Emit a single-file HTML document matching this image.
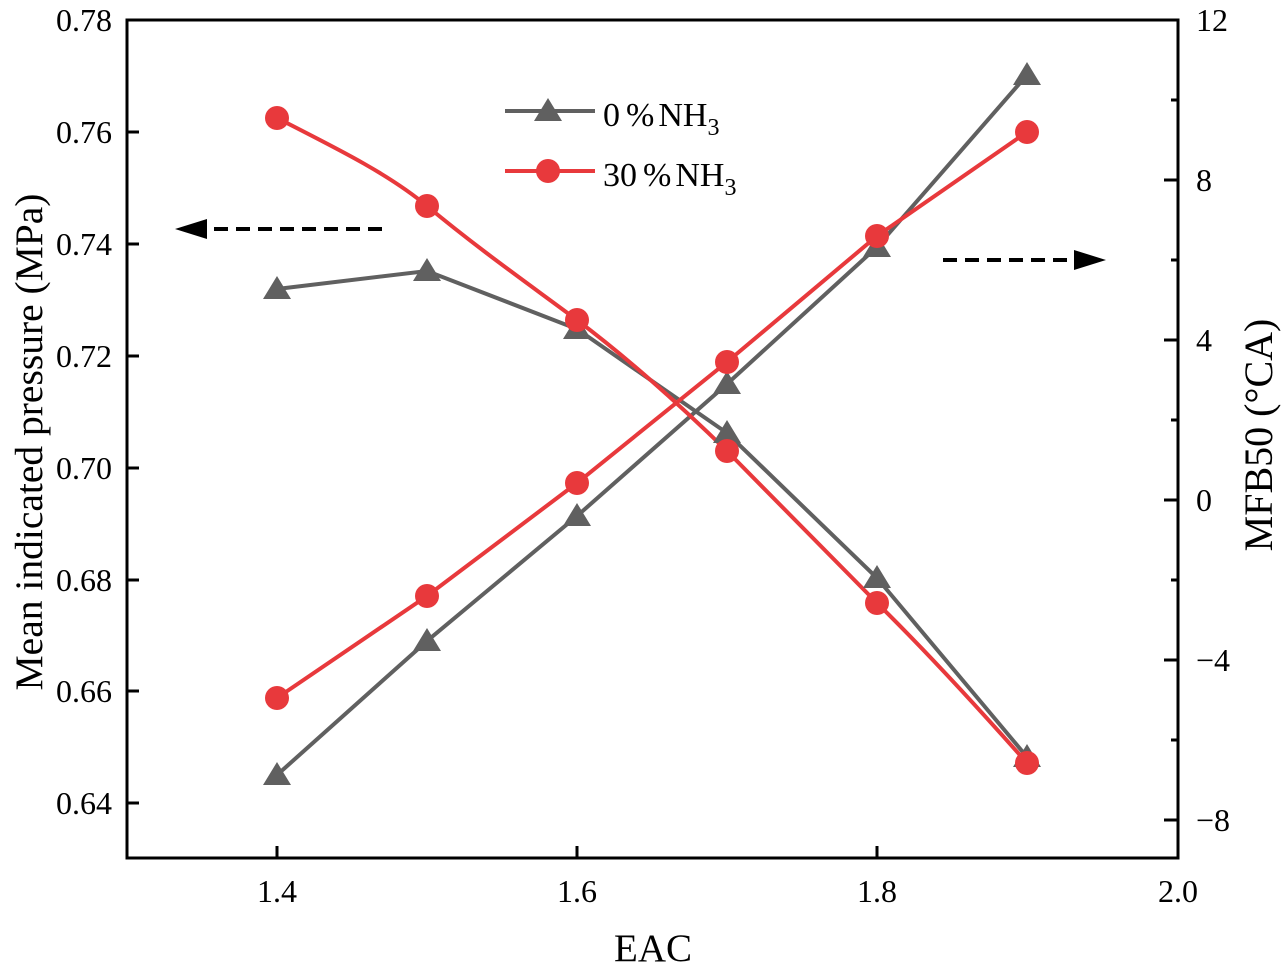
<!DOCTYPE html>
<html><head><meta charset="utf-8"><style>
body{margin:0;background:#fff}
svg text{font-family:"Liberation Serif",serif;fill:#000}
</style></head><body>
<svg width="1283" height="975" viewBox="0 0 1283 975" xmlns="http://www.w3.org/2000/svg">
<rect x="127" y="20" width="1051" height="838" fill="none" stroke="#000" stroke-width="3"/>
<g stroke="#000" stroke-width="3">
<line x1="127" y1="20" x2="139" y2="20"/><line x1="127" y1="132" x2="139" y2="132"/><line x1="127" y1="244" x2="139" y2="244"/><line x1="127" y1="356" x2="139" y2="356"/><line x1="127" y1="468" x2="139" y2="468"/><line x1="127" y1="580" x2="139" y2="580"/><line x1="127" y1="691" x2="139" y2="691"/><line x1="127" y1="803" x2="139" y2="803"/>
<line x1="277" y1="858" x2="277" y2="846"/><line x1="577" y1="858" x2="577" y2="846"/><line x1="877" y1="858" x2="877" y2="846"/><line x1="1178" y1="858" x2="1178" y2="846"/>
<line x1="1178" y1="20" x2="1164" y2="20"/><line x1="1178" y1="180" x2="1164" y2="180"/><line x1="1178" y1="340" x2="1164" y2="340"/><line x1="1178" y1="500" x2="1164" y2="500"/><line x1="1178" y1="660" x2="1164" y2="660"/><line x1="1178" y1="820" x2="1164" y2="820"/>
<line x1="1178" y1="100" x2="1171" y2="100"/><line x1="1178" y1="260" x2="1171" y2="260"/><line x1="1178" y1="420" x2="1171" y2="420"/><line x1="1178" y1="580" x2="1171" y2="580"/><line x1="1178" y1="740" x2="1171" y2="740"/>
</g>
<g font-size="32" text-anchor="end">
<text x="112" y="31">0.78</text><text x="112" y="143">0.76</text><text x="112" y="255">0.74</text><text x="112" y="367">0.72</text><text x="112" y="479">0.70</text><text x="112" y="591">0.68</text><text x="112" y="702">0.66</text><text x="112" y="814">0.64</text>
</g>
<g font-size="32" text-anchor="middle">
<text x="277" y="902">1.4</text><text x="577" y="902">1.6</text><text x="877" y="902">1.8</text><text x="1178" y="902">2.0</text>
</g>
<g font-size="32" text-anchor="start">
<text x="1196" y="31">12</text><text x="1196" y="191">8</text><text x="1196" y="351">4</text><text x="1196" y="511">0</text><text x="1196" y="671">−4</text><text x="1196" y="831">−8</text>
</g>
<text x="653" y="961" font-size="39" text-anchor="middle">EAC</text>
<text transform="translate(42,442) rotate(-90)" font-size="39.5" text-anchor="middle">Mean indicated pressure (MPa)</text>
<text transform="translate(1272,435) rotate(-90)" font-size="40" text-anchor="middle">MFB50 (°CA)</text>
<g fill="none" stroke-width="4">
<polyline stroke="#606060" points="277,289 427,271 577,329 727,433 877,578 1027,757"/>
<polyline stroke="#606060" points="277,775 427,641 577,516 727,384 877,247 1027,75"/>
<path stroke="#e8393c" d="M277,118 C340,150 390,175 427,206 C480,250 530,285 577,320 C630,360 680,405 727,451 C780,505 830,555 877,603 C930,655 980,710 1027,763"/>
<polyline stroke="#e8393c" points="277,698 427,596 577,483 727,362 877,236 1027,132"/>
</g>
<g fill="#606060">
<path d="M277,276 l-14,23 h28z M427,258 l-14,23 h28z M577,316 l-14,23 h28z M727,420 l-14,23 h28z M877,565 l-14,23 h28z M1027,744 l-14,23 h28z"/>
<path d="M277,762 l-14,23 h28z M427,628 l-14,23 h28z M577,503 l-14,23 h28z M727,371 l-14,23 h28z M877,234 l-14,23 h28z M1027,62 l-14,23 h28z"/>
</g>
<g fill="#e8393c">
<circle cx="277" cy="118" r="12"/><circle cx="427" cy="206" r="12"/><circle cx="577" cy="320" r="12"/><circle cx="727" cy="451" r="12"/><circle cx="877" cy="603" r="12"/><circle cx="1027" cy="763" r="12"/>
<circle cx="277" cy="698" r="12"/><circle cx="427" cy="596" r="12"/><circle cx="577" cy="483" r="12"/><circle cx="727" cy="362" r="12"/><circle cx="877" cy="236" r="12"/><circle cx="1027" cy="132" r="12"/>
</g>
<line x1="505" y1="111" x2="595" y2="111" stroke="#606060" stroke-width="4"/>
<path d="M548,98 l-14,23 h28z" fill="#606060"/>
<line x1="505" y1="171" x2="595" y2="171" stroke="#e8393c" stroke-width="4"/>
<circle cx="548" cy="171" r="12" fill="#e8393c"/>
<text x="603" y="126" font-size="34">0<tspan dx="6">%</tspan><tspan dx="4">NH</tspan><tspan font-size="24" dy="9">3</tspan></text>
<text x="603" y="186" font-size="34">30<tspan dx="6">%</tspan><tspan dx="4">NH</tspan><tspan font-size="24" dy="9">3</tspan></text>
<line x1="382" y1="229" x2="205" y2="229" stroke="#000" stroke-width="4" stroke-dasharray="14,8"/>
<path d="M175,229 l32,-10 v20z" fill="#000"/>
<line x1="943" y1="260" x2="1075" y2="260" stroke="#000" stroke-width="4" stroke-dasharray="14,8"/>
<path d="M1106,260 l-32,-10 v20z" fill="#000"/>
</svg>
</body></html>
